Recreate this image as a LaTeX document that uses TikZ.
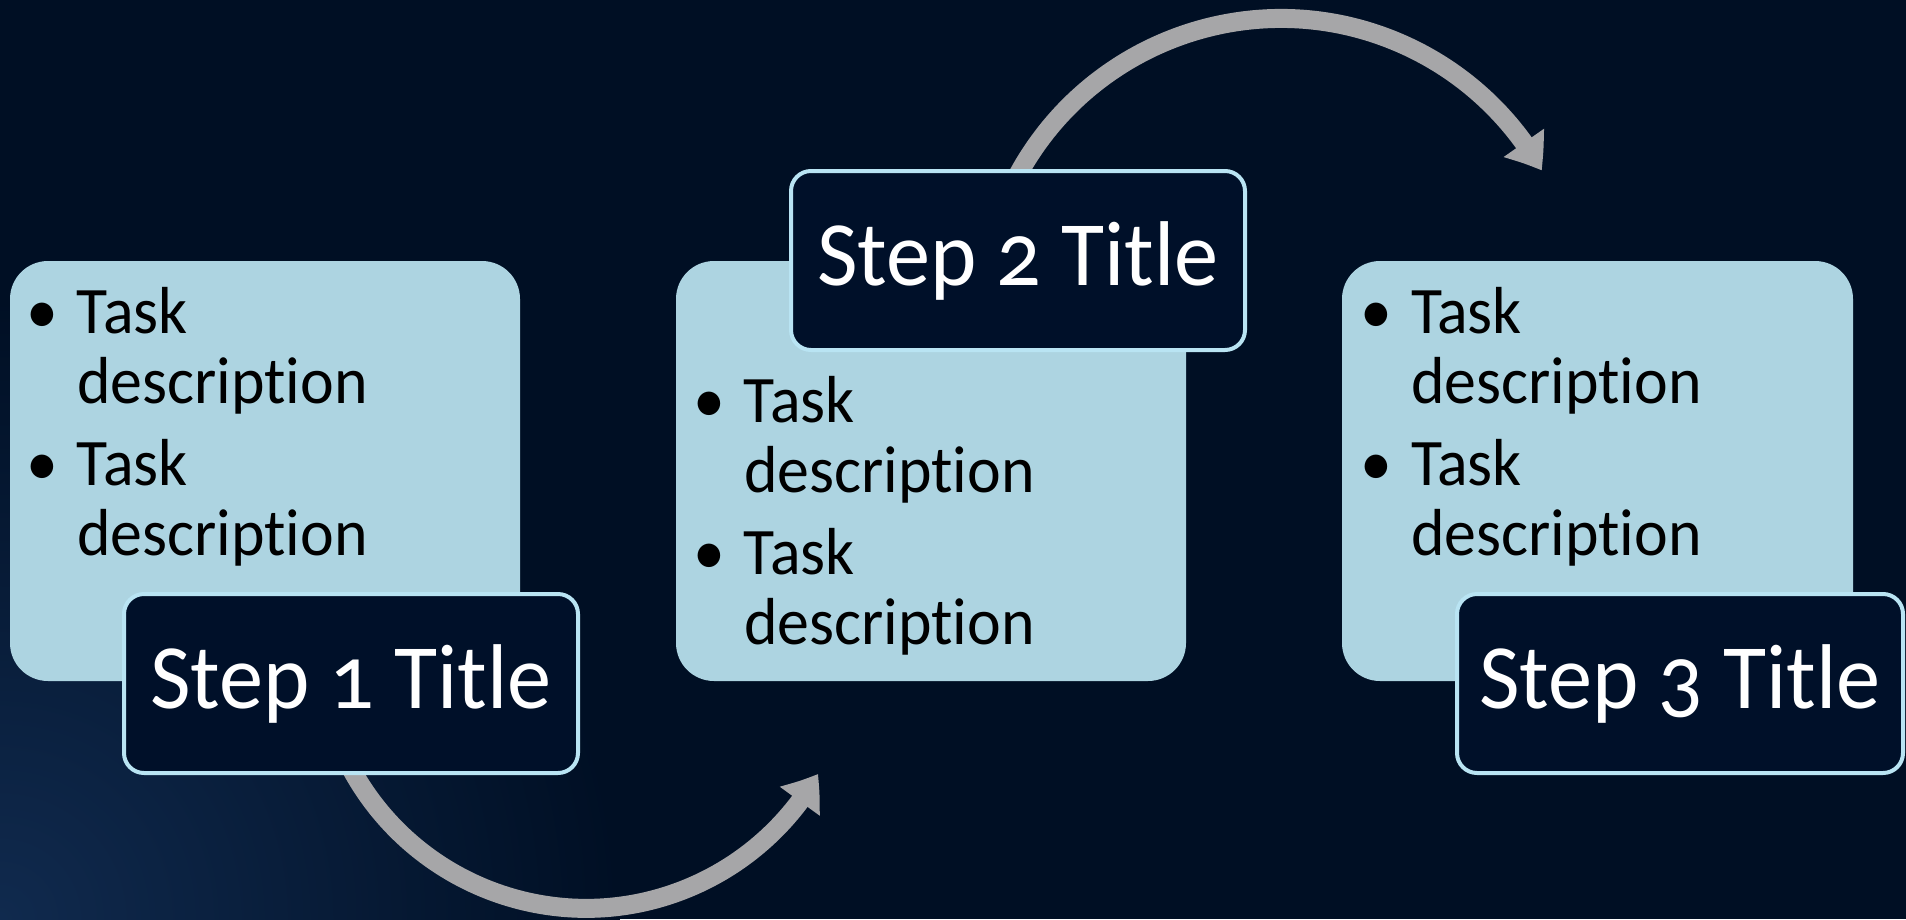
\documentclass[tikz,border=0pt]{standalone}
\usepackage{fontspec}
\setmainfont[FakeStretch=0.96,Numbers=OldStyle,Ligatures=NoCommon,RawFeature={-liga;-dlig}]{Carlito}
\usetikzlibrary{arrows.meta,bending}
\definecolor{bg}{HTML}{000F24}
\definecolor{glow}{HTML}{102A4E}
\definecolor{boxfill}{HTML}{ADD4E1}
\definecolor{titlefill}{HTML}{001029}
\definecolor{titleline}{HTML}{B9E4F3}
\definecolor{arrowgray}{HTML}{A6A6A8}
\newcommand\bitem[1]{\par\noindent\llap{\makebox[70pt][c]{\textbullet}}#1}
\newcommand\tasklist{%
  \begin{minipage}[t]{420pt}\parskip=0pt\parindent=0pt
  \fontsize{66.5}{70}\selectfont
  \bitem{Task\\description}\par\vspace{12pt}%
  \bitem{Task\\description}%
  \end{minipage}}
\tikzset{
  taskbox/.style={fill=boxfill, rounded corners=38pt, inner sep=0pt, outer sep=0pt,
    minimum height=420pt, anchor=north west},
  titlebox/.style={fill=titlefill, draw=titleline, line width=4pt, rounded corners=20pt,
    inner sep=0pt, outer sep=0pt, minimum height=179pt, anchor=north west,
    text=white, font=\fontsize{92}{110}\selectfont, text height=60pt, text depth=11pt},
  tasktext/.style={inner sep=0pt, outer sep=0pt, anchor=base west, text=black},
  flow/.style={draw=arrowgray, line width=19pt, -{Triangle[width=47pt,length=33pt,bend]}}
}
\begin{document}
\begin{tikzpicture}[x=1pt,y=1pt]
\useasboundingbox (0,0) rectangle (1906,-919);
\fill[bg] (0,0) rectangle (1906,-919);
\begin{scope}
  \clip (0,0) rectangle (1906,-919);
  \shade[inner color=glow, outer color=bg] (0,-919) circle (620pt);
\end{scope}
% arrows
\coordinate (o1) at (586,-641);
\coordinate (o2) at (1281,-318);
\draw[flow] (o1) ++(204:267.3pt) arc[start angle=204, end angle=330.2, radius=267.3pt];
\draw[flow] (o2) ++(156:299.5pt) arc[start angle=156, end angle=29.5, radius=299.5pt];
% light boxes
\node[taskbox, minimum width=510pt] (b1) at (10,-261) {};
\node[taskbox, minimum width=510pt] (b2) at (676,-261) {};
\node[taskbox, minimum width=511pt] (b3) at (1342,-261) {};
% task texts
\node[tasktext] (d1) at (77,-333) {\tasklist};
\node[tasktext] (d2) at (744,-422) {\tasklist};
\node[tasktext] (d3) at (1411,-333) {\tasklist};
% titles
\node[titlebox, minimum width=454pt] (t1) at (124,-594) {Step 1 Title};
\node[titlebox, minimum width=454pt] (t2) at (791,-171) {Step 2 Title};
\node[titlebox, minimum width=446pt] (t3) at (1457,-594) {Step 3 Title};
\end{tikzpicture}
\end{document}
